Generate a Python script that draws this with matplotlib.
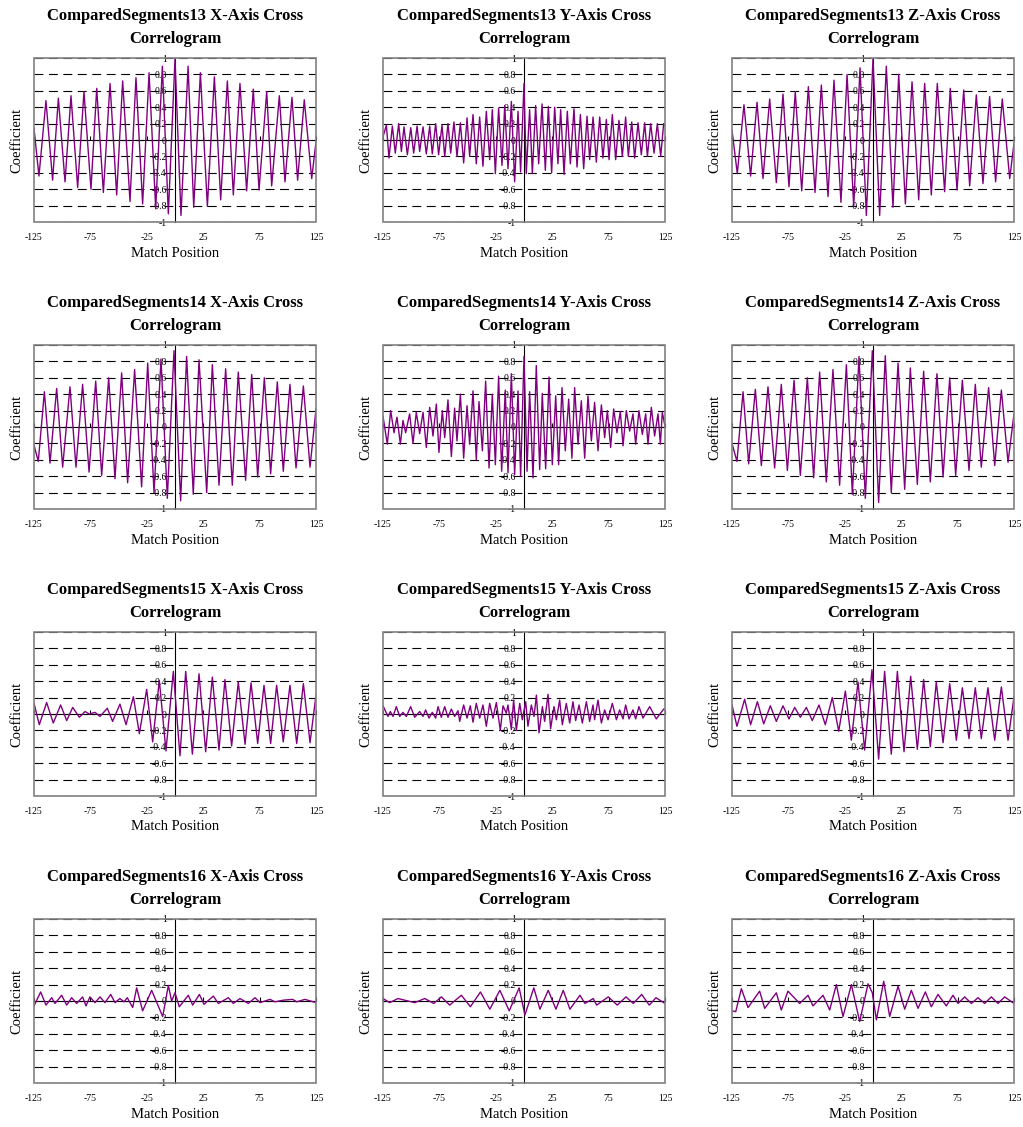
import matplotlib
matplotlib.use("Agg")
import matplotlib.pyplot as plt
from matplotlib.patches import Rectangle

plt.rcParams['font.family'] = ['Liberation Serif', 'DejaVu Serif']

# extrema (match position, coefficient)
x13x = [-125, -120.6, -114.4, -108.5, -103.4, -97.5, -92.2, -86.3, -80.7, -74.5, -69.4, -63.5, -57.6, -51.7, -46.4,
        -39.9, -34.6, -28.7, -23.0, -17.1, -11.2, -5.9, 0, 5.3, 11.6, 16.6, 22.5, 28.7, 34.9, 40.5,
        46.4, 51.7, 57.6, 63.5, 69.4, 74.5, 81.3, 85.7, 92.5, 97.5, 103.7, 108.7, 114.6, 121.2, 125]
y13x = [0.14, -0.44, 0.48, -0.49, 0.51, -0.51, 0.54, -0.58, 0.59, -0.60, 0.63, -0.64, 0.69, -0.67, 0.72,
        -0.75, 0.76, -0.78, 0.82, -0.84, 0.90, -0.90, 0.99, -0.92, 0.90, -0.82, 0.82, -0.81, 0.77, -0.73,
        0.72, -0.67, 0.69, -0.62, 0.62, -0.61, 0.59, -0.56, 0.54, -0.51, 0.52, -0.49, 0.49, -0.47, -0.02]

x13y = [-125, -122.0, -119.7, -116.7, -114.1, -111.1, -108.7, -106.4, -103.4, -100.4,
        -97.8, -94.8, -92.5, -89.5, -86.6, -83.6, -81.3, -78.3, -75.7, -72.7,
        -70.3, -67.4, -65.0, -62.1, -59.4, -56.4, -53.5, -50.5, -48.2, -45.2,
        -42.3, -39.3, -36.4, -33.4, -30.4, -28.1, -25.4, -22.5, -19.5, -17.1,
        -14.2, -11.2, -8.3, -5.3, -3.0, 0.0, 2.0, 5.0, 7.4, 10.3,
        13.0, 16.0, 18.9, 21.6, 24.5, 27.2, 30.1, 32.5, 35.5, 38.4,
        41.1, 44.3, 47.0, 50.0, 52.9, 55.9, 58.2, 61.2, 64.1, 67.1,
        70.0, 73.0, 75.4, 78.3, 81.3, 84.2, 87.2, 90.1, 92.5, 95.5,
        98.1, 101.1, 104.0, 107.0, 109.4, 112.3, 115.3, 118.2, 121.2, 123.8, 125]
y13y = [0.04, 0.18, -0.22, 0.17, -0.16, 0.20, -0.14, 0.16, -0.18, 0.15,
        -0.16, 0.17, -0.14, 0.16, -0.17, 0.17, -0.17, 0.20, -0.18, 0.18,
        -0.20, 0.20, -0.16, 0.22, -0.20, 0.21, -0.28, 0.27, -0.20, 0.31,
        -0.29, 0.28, -0.32, 0.35, -0.24, 0.37, -0.41, 0.39, -0.31, 0.42,
        -0.35, 0.47, -0.51, 0.35, -0.39, 0.69, -0.41, 0.37, -0.41, 0.42,
        -0.29, 0.44, -0.37, 0.41, -0.40, 0.40, -0.29, 0.37, -0.42, 0.35,
        -0.29, 0.38, -0.33, 0.31, -0.35, 0.29, -0.24, 0.28, -0.27, 0.28,
        -0.22, 0.25, -0.24, 0.31, -0.24, 0.24, -0.20, 0.28, -0.20, 0.22,
        -0.22, 0.21, -0.18, 0.21, -0.20, 0.20, -0.16, 0.20, -0.20, 0.20, 0.18]

x13z = [-125, -120.3, -114.4, -108.5, -102.8, -97.5, -91.6, -85.7, -79.8, -74.5, -68.9, -63.2, -57.3, -51.4, -45.8,
        -39.9, -34.6, -28.4, -23.0, -17.1, -11.5, -5.9, 0, 5.9, 11.8, 17.7, 22.8, 28.7, 34.6, 40.5,
        45.8, 51.7, 57.0, 63.5, 68.5, 74.5, 80.4, 85.7, 91.6, 97.5, 103.4, 108.7, 114.6, 121.2, 125]
y13z = [0.12, -0.41, 0.43, -0.44, 0.46, -0.47, 0.50, -0.52, 0.56, -0.57, 0.59, -0.62, 0.65, -0.64, 0.67,
        -0.69, 0.73, -0.76, 0.80, -0.81, 0.88, -0.92, 0.99, -0.92, 0.90, -0.82, 0.80, -0.78, 0.71, -0.73,
        0.69, -0.67, 0.69, -0.63, 0.63, -0.61, 0.61, -0.56, 0.55, -0.53, 0.53, -0.51, 0.50, -0.47, -0.04]

x14x = [-125, -121.2, -115.8, -110.8, -104.9, -99.6, -93.1, -87.8, -81.9, -76.2, -70.3, -65.0, -58.8, -53.2, -47.3,
        -42.0, -35.8, -29.6, -24.2, -18.6, -12.4, -6.8, -0.9, 5.0, 10.3, 16.2, 21.3, 28.1, 33.1, 39.0,
        44.9, 50.8, 56.1, 62.6, 68.0, 73.3, 79.2, 84.8, 90.7, 96.0, 101.9, 107.3, 113.8, 119.7, 125]
y14x = [-0.22, -0.42, 0.43, -0.44, 0.47, -0.49, 0.49, -0.49, 0.52, -0.55, 0.56, -0.59, 0.60, -0.63, 0.66,
        -0.68, 0.70, -0.73, 0.78, -0.80, 0.83, -0.87, 0.93, -0.90, 0.86, -0.82, 0.82, -0.80, 0.76, -0.71,
        0.71, -0.71, 0.67, -0.65, 0.64, -0.61, 0.60, -0.57, 0.55, -0.54, 0.52, -0.50, 0.50, -0.49, 0.22]

x14y = [-125, -121.2, -118.2, -115.2, -112.6, -109.6, -107.3, -104.9, -101.4, -98.4,
        -95.5, -92.5, -89.5, -86.6, -83.6, -80.7, -77.7, -75.4, -72.4, -70.3,
        -67.4, -64.4, -61.5, -59.4, -56.4, -53.5, -50.5, -48.2, -45.2, -42.3,
        -39.9, -36.9, -34.0, -31.0, -28.1, -25.4, -22.5, -19.8, -16.6, -14.2,
        -11.2, -8.3, -5.3, -3.0, 0.0, 2.7, 5.0, 8.0, 10.9, 13.9,
        16.2, 19.2, 22.2, 25.1, 28.1, 30.7, 33.7, 36.6, 39.6, 42.5,
        44.9, 47.9, 50.8, 53.8, 56.7, 59.7, 62.6, 65.6, 68.6, 71.5,
        73.9, 76.8, 79.5, 82.4, 85.4, 87.8, 90.7, 93.7, 96.6, 99.0,
        101.9, 104.9, 107.9, 109.9, 112.9, 115.8, 118.8, 120.9, 122.6, 125]
y14y = [0.13, -0.21, 0.20, -0.07, 0.12, -0.21, 0.08, -0.07, 0.16, -0.20,
        0.18, -0.08, 0.18, -0.25, 0.24, -0.11, 0.28, -0.31, 0.20, -0.13,
        0.33, -0.36, 0.23, -0.17, 0.40, -0.38, 0.26, -0.21, 0.44, -0.40,
        0.31, -0.29, 0.56, -0.50, 0.40, -0.46, 0.62, -0.54, 0.45, -0.56,
        0.65, -0.58, 0.44, -0.60, 0.86, -0.54, 0.43, -0.62, 0.75, -0.52,
        0.41, -0.51, 0.61, -0.46, 0.38, -0.46, 0.48, -0.29, 0.34, -0.38,
        0.48, -0.21, 0.32, -0.38, 0.38, -0.17, 0.30, -0.29, 0.27, -0.13,
        0.20, -0.25, 0.22, -0.07, 0.19, -0.23, 0.20, -0.05, 0.16, -0.21,
        0.20, -0.09, 0.16, -0.21, 0.24, -0.11, 0.16, -0.21, 0.18, 0.01]

x14z = [-125, -120.6, -115.2, -110.2, -104.3, -99.0, -93.1, -87.2, -81.3, -75.9, -70.0, -64.4, -58.2, -52.6, -47.3,
        -41.4, -35.5, -29.6, -23.6, -18.3, -12.4, -6.8, -0.6, 5.0, 10.9, 16.2, 22.2, 28.1, 33.1, 39.3,
        44.9, 50.8, 56.7, 62.1, 68.0, 73.3, 79.2, 85.1, 90.7, 96.0, 102.5, 107.9, 113.8, 119.7, 125]
y14z = [-0.20, -0.42, 0.43, -0.45, 0.46, -0.47, 0.49, -0.50, 0.52, -0.53, 0.57, -0.59, 0.60, -0.62, 0.67,
        -0.67, 0.70, -0.71, 0.76, -0.82, 0.86, -0.87, 0.93, -0.92, 0.87, -0.80, 0.78, -0.76, 0.72, -0.70,
        0.68, -0.67, 0.65, -0.61, 0.60, -0.59, 0.57, -0.53, 0.52, -0.49, 0.48, -0.47, 0.45, -0.43, 0.16]

x15x = [-125, -120.3, -113.8, -107.9, -101.4, -96.0, -90.7, -84.8, -79.8, -75.9, -70.9, -66.5, -60.0, -55.3, -48.8,
        -43.4, -36.9, -31.6, -25.1, -19.8, -13.9, -8.0, -1.5, 4.4, 9.5, 15.4, 21.3, 27.2, 33.1, 39.0,
        44.3, 50.2, 56.1, 62.1, 67.4, 73.3, 78.9, 84.8, 90.1, 96.0, 101.9, 107.9, 113.8, 119.7, 125]
y15x = [0.13, -0.13, 0.14, -0.11, 0.11, -0.08, 0.08, -0.04, 0.03, 0.0, 0.02, -0.03, 0.07, -0.09, 0.12,
        -0.13, 0.21, -0.24, 0.30, -0.34, 0.41, -0.45, 0.52, -0.51, 0.52, -0.49, 0.49, -0.46, 0.45, -0.44,
        0.42, -0.39, 0.39, -0.37, 0.38, -0.36, 0.35, -0.36, 0.35, -0.34, 0.35, -0.36, 0.37, -0.35, 0.23]

x15y = [-125, -120.6, -118.5, -116.1, -113.2, -110.2, -107.3, -104.3, -100.5, -96.9,
        -92.5, -89.5, -87.2, -84.2, -81.3, -78.3, -76.2, -73.3, -70.3, -67.4,
        -64.4, -61.5, -58.5, -57.0, -53.5, -50.5, -47.6, -45.2, -42.3, -39.3,
        -36.4, -33.4, -30.4, -27.5, -24.5, -21.0, -18.6, -15.7, -14.2, -11.2,
        -9.2, -6.8, -3.8, -1.5, 1.5, 3.5, 6.5, 8.9, 11.0, 13.3,
        16.3, 18.3, 21.3, 23.6, 26.6, 28.7, 31.6, 34.0, 37.5, 40.5,
        43.4, 45.8, 48.8, 51.7, 55.3, 58.2, 61.2, 62.6, 65.6, 68.6,
        71.5, 74.5, 78.3, 81.9, 84.8, 87.8, 90.1, 93.1, 96.6, 99.0,
        101.9, 105.5, 111.4, 117.3, 123.8, 125]
y15y = [0.10, -0.03, 0.03, -0.03, 0.09, -0.03, 0.02, -0.03, 0.09, -0.04,
        0.03, -0.03, 0.05, -0.05, 0.02, -0.05, 0.09, -0.04, 0.09, -0.04,
        0.06, -0.03, 0.04, -0.09, 0.11, -0.05, 0.10, -0.10, 0.13, -0.05,
        0.11, -0.15, 0.13, -0.05, 0.14, -0.20, 0.10, 0.01, 0.11, -0.19,
        0.17, -0.20, 0.13, -0.07, 0.15, -0.15, 0.11, -0.03, 0.23, -0.23,
        0.09, -0.09, 0.24, -0.18, 0.09, -0.07, 0.17, -0.13, 0.13, -0.11,
        0.15, -0.08, 0.11, -0.11, 0.15, -0.09, 0.11, -0.07, 0.17, -0.11,
        0.05, -0.07, 0.13, -0.07, 0.05, -0.06, 0.11, -0.06, 0.05, -0.06,
        0.09, -0.05, 0.09, -0.06, 0.06, 0.06]

x15z = [-125, -120.6, -113.8, -108.5, -102.5, -96.9, -91.0, -85.7, -79.8, -74.5, -69.4, -64.4, -59.1, -53.8, -47.9,
        -42.3, -36.1, -30.4, -24.5, -19.2, -13.3, -7.4, -0.9, 5.0, 10.3, 16.2, 21.6, 27.5, 33.4, 39.3,
        44.9, 50.8, 56.1, 62.1, 68.0, 73.9, 79.2, 85.1, 90.7, 96.0, 101.9, 107.9, 113.8, 119.7, 125]
y15z = [0.11, -0.15, 0.18, -0.13, 0.15, -0.12, 0.10, -0.09, 0.10, -0.06, 0.08, -0.04, 0.08, -0.08, 0.11,
        -0.13, 0.20, -0.21, 0.28, -0.32, 0.39, -0.44, 0.54, -0.55, 0.52, -0.49, 0.52, -0.46, 0.46, -0.43,
        0.42, -0.40, 0.39, -0.35, 0.37, -0.32, 0.32, -0.30, 0.32, -0.30, 0.32, -0.32, 0.33, -0.32, 0.21]

x16x = [-125, -119.1, -114.4, -109.3, -106.4, -100.5, -96.0, -91.6, -87.2, -81.9,
        -78.9, -75.4, -70.9, -66.5, -62.1, -57.0, -53.2, -48.8, -45.2, -42.3,
        -37.5, -34.0, -28.7, -20.7, -10.9, -5.9, -3.0, 0.0, 3.8, 11.8,
        15.7, 21.6, 25.7, 34.0, 38.4, 47.3, 51.7, 57.6, 65.0, 70.9,
        75.4, 84.2, 88.6, 96.0, 104.3, 107.9, 115.2, 125]
y16x = [-0.06, 0.11, -0.05, 0.04, -0.03, 0.07, -0.05, 0.04, -0.03, 0.05,
        -0.06, 0.05, -0.02, 0.05, -0.02, 0.08, -0.02, 0.03, -0.01, 0.04,
        -0.08, 0.16, -0.12, 0.13, -0.19, 0.19, 0.0, 0.10, -0.07, 0.07,
        -0.05, 0.08, -0.04, 0.06, -0.03, 0.04, -0.03, 0.03, -0.03, 0.04,
        -0.02, 0.02, -0.01, 0.01, 0.02, -0.01, 0.02, -0.02]

x16y = [-125, -119.1, -111.7, -96.9, -88.0, -80.0, -73.2, -65.9, -55.5, -47.5, -38.6, -30.3, -21.4, -13.1, -4.3,
        0.8, 8.7, 14.1, 21.5, 28.3, 34.8, 40.7, 49.6, 54.0, 61.4, 64.4, 74.7, 82.7, 90.4, 96.9,
        104.3, 111.1, 117.0, 125]
y16y = [0.03, -0.02, 0.03, -0.02, 0.03, -0.03, 0.05, -0.05, 0.07, -0.07, 0.11, -0.10, 0.13, -0.12, 0.16,
        -0.17, 0.16, -0.10, 0.13, -0.10, 0.13, -0.10, 0.07, -0.03, 0.03, -0.05, 0.05, -0.05, 0.05, -0.03,
        0.08, -0.05, 0.04, -0.03]

x16z = [-125, -121.7, -116.7, -110.8, -100.5, -96.0, -85.7, -81.3, -75.4, -65.0, -57.6, -53.2, -44.3, -38.4,
        -32.5, -26.6, -19.2, -11.8, -4.4, -0.6, 3.0, 9.5, 14.8, 22.2, 28.1, 34.0, 39.9, 46.4,
        51.7, 57.6, 65.0, 70.9, 75.4, 81.3, 87.2, 93.1, 99.0, 104.9, 110.8, 116.7, 125]
y16z = [-0.12, -0.13, 0.15, -0.08, 0.12, -0.09, 0.10, -0.11, 0.12, -0.03, 0.07, -0.06, 0.07, -0.11,
        0.20, -0.19, 0.20, -0.25, 0.21, 0.10, -0.23, 0.24, -0.19, 0.18, -0.10, 0.13, -0.09, 0.11,
        -0.07, 0.08, -0.06, 0.07, -0.03, 0.05, -0.03, 0.04, -0.03, 0.05, -0.03, 0.05, -0.03]

segments = ['13', '14', '15', '16']
axes_names = ['X', 'Y', 'Z']
series = {
    ('13', 'X'): (x13x, y13x), ('13', 'Y'): (x13y, y13y), ('13', 'Z'): (x13z, y13z),
    ('14', 'X'): (x14x, y14x), ('14', 'Y'): (x14y, y14y), ('14', 'Z'): (x14z, y14z),
    ('15', 'X'): (x15x, y15x), ('15', 'Y'): (x15y, y15y), ('15', 'Z'): (x15z, y15z),
    ('16', 'X'): (x16x, y16x), ('16', 'Y'): (x16y, y16y), ('16', 'Z'): (x16z, y16z),
}

xticks = [-125, -75, -25, 25, 75, 125]
xtick_labels = ['-125', '-75', '-25', '25', '75', '125']
yticks = [-1, -0.8, -0.6, -0.4, -0.2, 0, 0.2, 0.4, 0.6, 0.8, 1]
ytick_labels = ['-1', '-0.8', '-0.6', '-0.4', '-0.2', '0', '0.2', '0.4', '0.6', '0.8', '1']

W, H = 1023, 1127
fig = plt.figure(figsize=(W / 100, H / 100), dpi=100)

col_left = [34, 383, 732]
row_top = [58, 345, 632, 919]
aw, ah = 282, 164

for r, seg in enumerate(segments):
    for c, an in enumerate(axes_names):
        ax = fig.add_axes([col_left[c] / W, 1 - (row_top[r] + ah) / H, aw / W, ah / H])
        xs, ys = series[(seg, an)]
        ax.plot(xs, ys, color='#800080', lw=1.0, zorder=3)
        ax.set_xlim(-125, 125)
        ax.set_ylim(-1, 1)

        # dashed horizontal gridlines
        ax.set_yticks(yticks)
        ax.grid(axis='y', color='black', lw=0.8, linestyle=(0, (8, 5)))
        ax.tick_params(axis='y', length=0, labelleft=False)
        ax.set_xticks(xticks)
        ax.set_xticklabels(xtick_labels)
        ax.tick_params(axis='x', length=0, pad=8, labelsize=7)
        for s in ax.spines.values():
            s.set_visible(False)
        ax.add_patch(Rectangle((0, 0), 1, 1, transform=ax.transAxes, fill=False,
                               edgecolor='#808080', lw=1.2, zorder=4, clip_on=False))

        # axis lines through the origin
        sx = ax.secondary_xaxis(0.5)
        sx.set_xticks(xticks)
        sx.tick_params(axis='x', direction='out', length=3, width=0.8, labelbottom=False, labeltop=False)
        sx.spines['bottom'].set_color('black')
        sx.spines['top'].set_color('black')
        sy = ax.secondary_yaxis(0.5)
        sy.set_alignment('left')
        sy.set_yticks(yticks)
        sy.set_yticklabels(ytick_labels)
        sy.tick_params(axis='y', length=0, pad=6, labelsize=7)
        sy.spines['left'].set_color('black')

        ax.set_title('ComparedSegments%s %s-Axis Cross\nCorrelogram' % (seg, an),
                     fontsize=12, fontweight='bold', pad=11, linespacing=1.55)
        ax.set_xlabel('Match Position', fontsize=10.5)
        ax.xaxis.set_label_coords(0.5, -31 / ah)
        ax.xaxis.label.set_va('center')
        ax.set_ylabel('Coefficient', fontsize=10.5)
        ax.yaxis.set_label_coords(-17 / aw, 0.5)
        ax.yaxis.label.set_va('center')

fig.savefig('out.png', dpi=100)
